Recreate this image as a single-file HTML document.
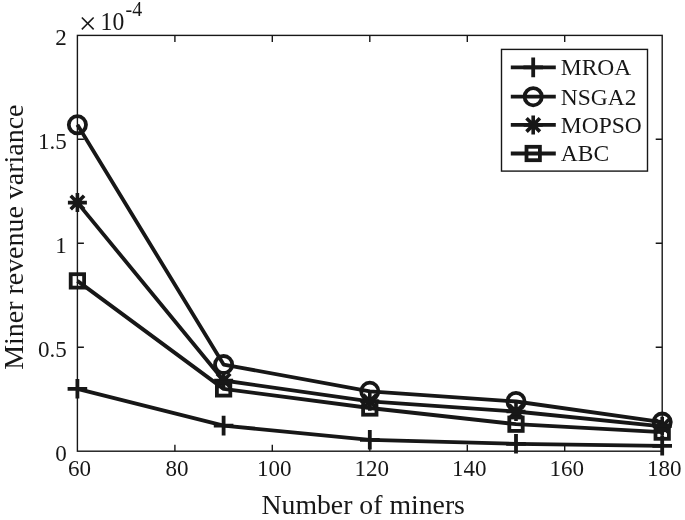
<!DOCTYPE html>
<html><head><meta charset="utf-8"><title>Miner revenue variance</title>
<style>
html,body{margin:0;padding:0;background:#fff;}
svg{display:block;font-family:"Liberation Serif",serif;fill:#171717;}
</style></head><body>
<svg width="685" height="520" viewBox="0 0 685 520">
<rect width="685" height="520" fill="#fff"/>

<rect x="77.4" y="35.4" width="584.8" height="415.8" fill="none" stroke="#171717" stroke-width="1.4"/>
<path d="M174.9 451.2V444.7M174.9 35.4V41.9M272.3 451.2V444.7M272.3 35.4V41.9M369.8 451.2V444.7M369.8 35.4V41.9M467.3 451.2V444.7M467.3 35.4V41.9M564.7 451.2V444.7M564.7 35.4V41.9M77.4 347.2H83.9M662.2 347.2H655.7M77.4 243.3H83.9M662.2 243.3H655.7M77.4 139.3H83.9M662.2 139.3H655.7" stroke="#171717" stroke-width="1.4" fill="none"/>
<text transform="translate(79.4,476.4) scale(0.96,1)" font-size="24.0" text-anchor="middle">60</text>
<text transform="translate(176.9,476.4) scale(0.96,1)" font-size="24.0" text-anchor="middle">80</text>
<text transform="translate(274.3,476.4) scale(0.96,1)" font-size="24.0" text-anchor="middle">100</text>
<text transform="translate(371.8,476.4) scale(0.96,1)" font-size="24.0" text-anchor="middle">120</text>
<text transform="translate(469.3,476.4) scale(0.96,1)" font-size="24.0" text-anchor="middle">140</text>
<text transform="translate(566.7,476.4) scale(0.96,1)" font-size="24.0" text-anchor="middle">160</text>
<text transform="translate(664.2,476.4) scale(0.96,1)" font-size="24.0" text-anchor="middle">180</text>
<text transform="translate(66.8,461.0) scale(0.96,1)" font-size="24.0" text-anchor="end">0</text>
<text transform="translate(66.8,357.1) scale(0.96,1)" font-size="24.0" text-anchor="end">0.5</text>
<text transform="translate(66.8,253.1) scale(0.96,1)" font-size="24.0" text-anchor="end">1</text>
<text transform="translate(66.8,149.1) scale(0.96,1)" font-size="24.0" text-anchor="end">1.5</text>
<text transform="translate(66.8,45.2) scale(0.96,1)" font-size="24.0" text-anchor="end">2</text>
<text x="78.8" y="33.8" font-size="31.8">×</text>
<text x="100.6" y="30" font-size="25" textLength="23.6" lengthAdjust="spacingAndGlyphs">10</text>
<text x="125.6" y="16" font-size="21" textLength="16.6" lengthAdjust="spacingAndGlyphs">-4</text>
<text x="363.2" y="514.3" font-size="27.75" text-anchor="middle">Number of miners</text>
<text transform="translate(23.3,237.2) rotate(-90)" font-size="27.95" text-anchor="middle">Miner revenue variance</text>
<polyline points="77.4,388.8 223.6,425.6 369.8,439.8 516.0,443.8 662.2,445.8" fill="none" stroke="#171717" stroke-width="3.8" stroke-linejoin="round"/>
<path d="M67.6 388.8H87.2M77.4 379.0V398.6" stroke="#171717" stroke-width="3.8" fill="none"/>
<path d="M213.8 425.6H233.4M223.6 415.8V435.4" stroke="#171717" stroke-width="3.8" fill="none"/>
<path d="M360.0 439.8H379.6M369.8 430.0V449.6" stroke="#171717" stroke-width="3.8" fill="none"/>
<path d="M506.2 443.8H525.8M516.0 434.0V453.6" stroke="#171717" stroke-width="3.8" fill="none"/>
<path d="M652.4 445.8H672.0M662.2 436.0V455.6" stroke="#171717" stroke-width="3.8" fill="none"/>
<polyline points="77.4,124.8 223.6,364.6 369.8,391.3 516.0,401.5 662.2,422.1" fill="none" stroke="#171717" stroke-width="3.8" stroke-linejoin="round"/>
<ellipse cx="77.4" cy="124.8" rx="8.6" ry="8.60" stroke="#171717" stroke-width="3.8" fill="none"/>
<ellipse cx="223.6" cy="364.6" rx="8.6" ry="8.60" stroke="#171717" stroke-width="3.8" fill="none"/>
<ellipse cx="369.8" cy="391.3" rx="8.6" ry="8.60" stroke="#171717" stroke-width="3.8" fill="none"/>
<ellipse cx="516.0" cy="401.5" rx="8.6" ry="8.60" stroke="#171717" stroke-width="3.8" fill="none"/>
<ellipse cx="662.2" cy="422.1" rx="8.6" ry="8.60" stroke="#171717" stroke-width="3.8" fill="none"/>
<polyline points="77.4,202.6 223.6,380.5 369.8,401.3 516.0,411.5 662.2,426.3" fill="none" stroke="#171717" stroke-width="3.8" stroke-linejoin="round"/>
<path d="M67.9 202.6H86.9M77.4 193.1V212.1M70.7 195.8L84.1 209.3M70.7 209.3L84.1 195.8" stroke="#171717" stroke-width="3.61" fill="none"/>
<path d="M214.1 380.5H233.1M223.6 371.0V390.0M216.9 373.8L230.3 387.2M216.9 387.2L230.3 373.8" stroke="#171717" stroke-width="3.61" fill="none"/>
<path d="M360.3 401.3H379.3M369.8 391.8V410.8M363.1 394.6L376.5 408.0M363.1 408.0L376.5 394.6" stroke="#171717" stroke-width="3.61" fill="none"/>
<path d="M506.5 411.5H525.5M516.0 402.0V421.0M509.3 404.8L522.7 418.2M509.3 418.2L522.7 404.8" stroke="#171717" stroke-width="3.61" fill="none"/>
<path d="M652.7 426.3H671.7M662.2 416.8V435.8M655.5 419.5L668.9 433.0M655.5 433.0L668.9 419.5" stroke="#171717" stroke-width="3.61" fill="none"/>
<polyline points="77.4,280.9 223.6,388.9 369.8,408.0 516.0,424.2 662.2,432.1" fill="none" stroke="#171717" stroke-width="3.8" stroke-linejoin="round"/>
<rect x="70.7" y="274.2" width="13.4" height="13.4" stroke="#171717" stroke-width="3.8" fill="none"/>
<rect x="216.9" y="382.2" width="13.4" height="13.4" stroke="#171717" stroke-width="3.8" fill="none"/>
<rect x="363.1" y="401.3" width="13.4" height="13.4" stroke="#171717" stroke-width="3.8" fill="none"/>
<rect x="509.3" y="417.5" width="13.4" height="13.4" stroke="#171717" stroke-width="3.8" fill="none"/>
<rect x="655.5" y="425.4" width="13.4" height="13.4" stroke="#171717" stroke-width="3.8" fill="none"/>
<rect x="501.5" y="49.4" width="146.0" height="121.7" fill="#fff" stroke="#171717" stroke-width="1.4"/>
<path d="M510.8 67.4H555.8" stroke="#171717" stroke-width="3.8"/>
<path d="M523.4 67.4H543.0M533.2 57.6V77.2" stroke="#171717" stroke-width="3.8" fill="none"/>
<text x="560.8" y="75.2" font-size="23.5">MROA</text>
<path d="M510.8 96.7H555.8" stroke="#171717" stroke-width="3.8"/>
<ellipse cx="533.2" cy="96.7" rx="8.6" ry="8.60" stroke="#171717" stroke-width="3.8" fill="none"/>
<text x="560.8" y="104.5" font-size="23.5">NSGA2</text>
<path d="M510.8 124.9H555.8" stroke="#171717" stroke-width="3.8"/>
<path d="M523.7 124.9H542.7M533.2 115.4V134.4M526.5 118.2L539.9 131.6M526.5 131.6L539.9 118.2" stroke="#171717" stroke-width="3.61" fill="none"/>
<text x="560.8" y="132.7" font-size="23.5">MOPSO</text>
<path d="M510.8 153.5H555.8" stroke="#171717" stroke-width="3.8"/>
<rect x="526.5" y="146.8" width="13.4" height="13.4" stroke="#171717" stroke-width="3.8" fill="none"/>
<text x="560.8" y="161.3" font-size="23.5">ABC</text>
</svg></body></html>
